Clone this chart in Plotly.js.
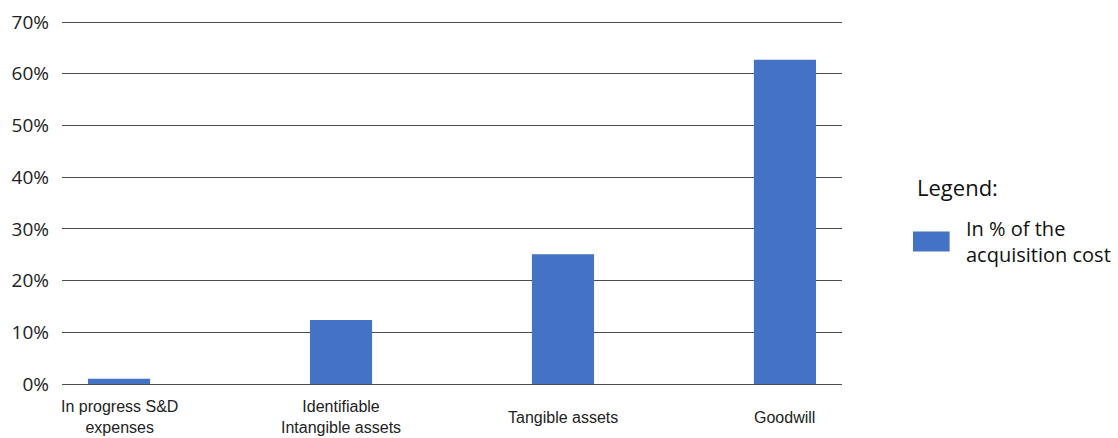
<!DOCTYPE html>
<html>
<head>
<meta charset="utf-8">
<script src="https://cdn.plot.ly/plotly-3.0.1.min.js"></script>
<style>html,body{margin:0;padding:0;background:#fff;}#chart{width:1118px;height:438px;}</style>
</head>
<body>
<div id="chart"></div>
<script>
const categories = ["In progress S&D<br>expenses", "Identifiable<br>Intangible assets", "Tangible assets", "Goodwill"];
const values = [1.0, 12.4, 25.1, 62.7];
const seriesName = "In % of the<br>acquisition cost";
const legendTitle = "Legend:";
const yTickValues = [0, 10, 20, 30, 40, 50, 60, 70];
const yTickLabels = ["0%", "10%", "20%", "30%", "40%", "50%", "60%", "70%"];

const barColor = "#4472c4";
const idx = categories.map((c, i) => i);

const trace = {
  type: "bar",
  x: idx,
  y: values,
  name: seriesName,
  marker: {color: barColor},
  width: 0.28,
  showlegend: false,
  hoverinfo: "skip"
};

const catAnnotations = categories.map((c, i) => ({
  text: c, x: i, xref: "x", y: -0.092, yref: "paper",
  xanchor: "center", yanchor: "middle", showarrow: false, align: "center",
  font: {family: "Liberation Sans, Arial, sans-serif", size: 16, color: "#222"}
}));

const legendAnnotations = [
  {text: legendTitle, x: 1.0935, xref: "paper", y: 0.544, yref: "paper",
   xanchor: "left", yanchor: "middle", showarrow: false,
   font: {family: "Open Sans, sans-serif", size: 22, color: "#111"}},
  {text: seriesName, x: 1.157, xref: "paper", y: 0.392, yref: "paper",
   xanchor: "left", yanchor: "middle", showarrow: false, align: "left",
   font: {family: "Open Sans, sans-serif", size: 20, color: "#111"}}
];

const layout = {
  width: 1118, height: 438,
  margin: {l: 62, r: 276, t: 21, b: 54},
  paper_bgcolor: "#fff", plot_bgcolor: "#fff",
  showlegend: false,
  xaxis: {
    range: [-0.257, 3.257], showticklabels: false, showgrid: false,
    zeroline: false, showline: false, ticks: "", fixedrange: true
  },
  yaxis: {
    range: [0, 70.2], tickmode: "array", tickvals: yTickValues, ticktext: yTickLabels,
    showgrid: true, gridcolor: "#4d4d4d", gridwidth: 1,
    zeroline: true, zerolinecolor: "#4d4d4d", zerolinewidth: 1,
    showline: false, ticks: "", ticklabelstandoff: 12,
    tickfont: {family: "Open Sans, sans-serif", size: 19, color: "#222"}
  },
  shapes: [
    {type: "rect", xref: "paper", yref: "paper", x0: 1.091, x1: 1.138, y0: 0.365, y1: 0.420,
     fillcolor: barColor, line: {width: 0}}
  ],
  annotations: catAnnotations.concat(legendAnnotations)
};

Plotly.newPlot("chart", [trace], layout, {displayModeBar: false, staticPlot: true});
</script>
</body>
</html>
